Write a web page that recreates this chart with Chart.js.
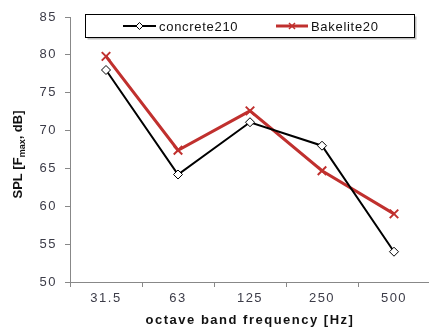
<!DOCTYPE html>
<html>
<head>
<meta charset="utf-8">
<script src="https://cdn.jsdelivr.net/npm/chart.js@4"></script>
<style>
  html, body { margin: 0; padding: 0; background: #fff; }
  #wrap { width: 429px; height: 328px; position: relative; overflow: hidden; }
  #c { display: block; }
</style>
</head>
<body>
<div id="wrap"><canvas id="c" width="438" height="328"></canvas></div>
<script>
// octave band centre frequencies (Hz)
const bands = ['31.5', '63', '125', '250', '500'];
// SPL at F_max, dB
const concrete210 = [78.0, 64.2, 71.1, 68.0, 54.0];
const bakelite20 = [79.8, 67.4, 72.6, 64.7, 59.0];
const seriesNames = ['concrete210', 'Bakelite20'];
const yMin = 50, yMax = 85, yStep = 5;

const FONT = '"Liberation Sans", Arial, sans-serif';
const TICK_COLOR = '#3c3c48';
const RED = '#c0302e';

// slightly tracked-out lettering for axis text
const tracking = {
  id: 'tracking',
  beforeDraw(chart) { chart.ctx.letterSpacing = '1.5px'; }
};

// y-axis title with a subscript, plus the boxed legend inside the plot
const decorations = {
  id: 'decorations',
  afterDraw(chart) {
    const ctx = chart.ctx;
    const area = chart.chartArea;
    ctx.save();
    ctx.letterSpacing = '0px';

    // rotated y title: SPL [F_max, dB]
    const cy = (area.top + area.bottom) / 2 + 5;
    ctx.translate(22, cy);
    ctx.rotate(-Math.PI / 2);
    ctx.fillStyle = '#111';
    ctx.textBaseline = 'alphabetic';
    const big = 'bold 13px ' + FONT;
    const small = 'bold 9px ' + FONT;
    const parts = [['SPL [F', big, 0], ['max', small, 3], [', dB]', big, 0]];
    let total = 0;
    parts.forEach(p => { ctx.font = p[1]; total += ctx.measureText(p[0]).width; });
    let x = -total / 2;
    parts.forEach(p => {
      ctx.font = p[1];
      ctx.fillText(p[0], x, p[2]);
      x += ctx.measureText(p[0]).width;
    });
    ctx.restore();

    // legend box
    ctx.save();
    ctx.letterSpacing = '0.7px';
    const bx = 85.5, by = 14.5, bw = 329, bh = 23;
    ctx.fillStyle = 'rgba(0,0,0,0.25)';
    ctx.fillRect(bx + 2, by + 2, bw, bh);
    ctx.fillStyle = '#fff';
    ctx.fillRect(bx, by, bw, bh);
    ctx.strokeStyle = '#000';
    ctx.lineWidth = 1;
    ctx.strokeRect(bx, by, bw, bh);
    const ly = by + bh / 2;
    ctx.font = '13px ' + FONT;
    ctx.textBaseline = 'middle';
    ctx.fillStyle = '#111';

    // concrete210 sample
    ctx.strokeStyle = '#000';
    ctx.lineWidth = 2;
    ctx.beginPath(); ctx.moveTo(123, ly); ctx.lineTo(156, ly); ctx.stroke();
    ctx.beginPath();
    const dx = 139.5, r = 3.5;
    ctx.moveTo(dx, ly - r); ctx.lineTo(dx + r, ly); ctx.lineTo(dx, ly + r); ctx.lineTo(dx - r, ly); ctx.closePath();
    ctx.fillStyle = '#fff'; ctx.fill();
    ctx.lineWidth = 1; ctx.stroke();
    ctx.fillStyle = '#111';
    ctx.fillText(seriesNames[0], 159, ly + 1);

    // Bakelite20 sample
    ctx.strokeStyle = RED;
    ctx.lineWidth = 3;
    ctx.beginPath(); ctx.moveTo(276, ly); ctx.lineTo(308, ly); ctx.stroke();
    ctx.lineWidth = 1.5;
    const cx = 292, s = 3;
    ctx.beginPath();
    ctx.moveTo(cx - s, ly - s); ctx.lineTo(cx + s, ly + s);
    ctx.moveTo(cx + s, ly - s); ctx.lineTo(cx - s, ly + s);
    ctx.stroke();
    ctx.fillText(seriesNames[1], 311, ly + 1);
    ctx.restore();
  }
};

new Chart(document.getElementById('c'), {
  type: 'line',
  data: {
    labels: bands,
    datasets: [
      {
        label: seriesNames[0],
        data: concrete210,
        borderColor: '#000',
        borderWidth: 2,
        pointStyle: 'rectRot',
        pointRadius: 4.5,
        pointBackgroundColor: '#fff',
        pointBorderColor: '#000',
        pointBorderWidth: 1,
        tension: 0
      },
      {
        label: seriesNames[1],
        data: bakelite20,
        borderColor: RED,
        borderWidth: 3,
        pointStyle: 'crossRot',
        pointRadius: 6,
        pointBorderColor: RED,
        pointBorderWidth: 2,
        tension: 0
      }
    ]
  },
  options: {
    responsive: false,
    animation: false,
    devicePixelRatio: 1,
    layout: { padding: { top: 17, right: 0, left: 0, bottom: 0 } },
    plugins: { legend: { display: false }, tooltip: { enabled: false } },
    scales: {
      x: {
        offset: true,
        grid: {
          offset: true,
          drawOnChartArea: false,
          drawTicks: true,
          tickLength: 5,
          color: '#888'
        },
        border: { color: '#888', width: 1 },
        ticks: {
          color: TICK_COLOR,
          font: { family: FONT, size: 13 },
          padding: 4,
          maxRotation: 0
        },
        title: {
          display: true,
          text: 'octave band frequency [Hz]',
          color: '#111',
          font: { family: FONT, size: 13, weight: 'bold' },
          padding: { top: 2, bottom: 0 }
        },
        afterFit(scale) { scale.height = 46; }
      },
      y: {
        min: yMin,
        max: yMax,
        grid: {
          drawOnChartArea: false,
          drawTicks: true,
          tickLength: 5,
          color: '#888'
        },
        border: { color: '#888', width: 1 },
        ticks: {
          stepSize: yStep,
          color: TICK_COLOR,
          font: { family: FONT, size: 13 },
          padding: 8
        },
        afterFit(scale) { scale.width = 70; }
      }
    }
  },
  plugins: [tracking, decorations]
});
</script>
</body>
</html>
